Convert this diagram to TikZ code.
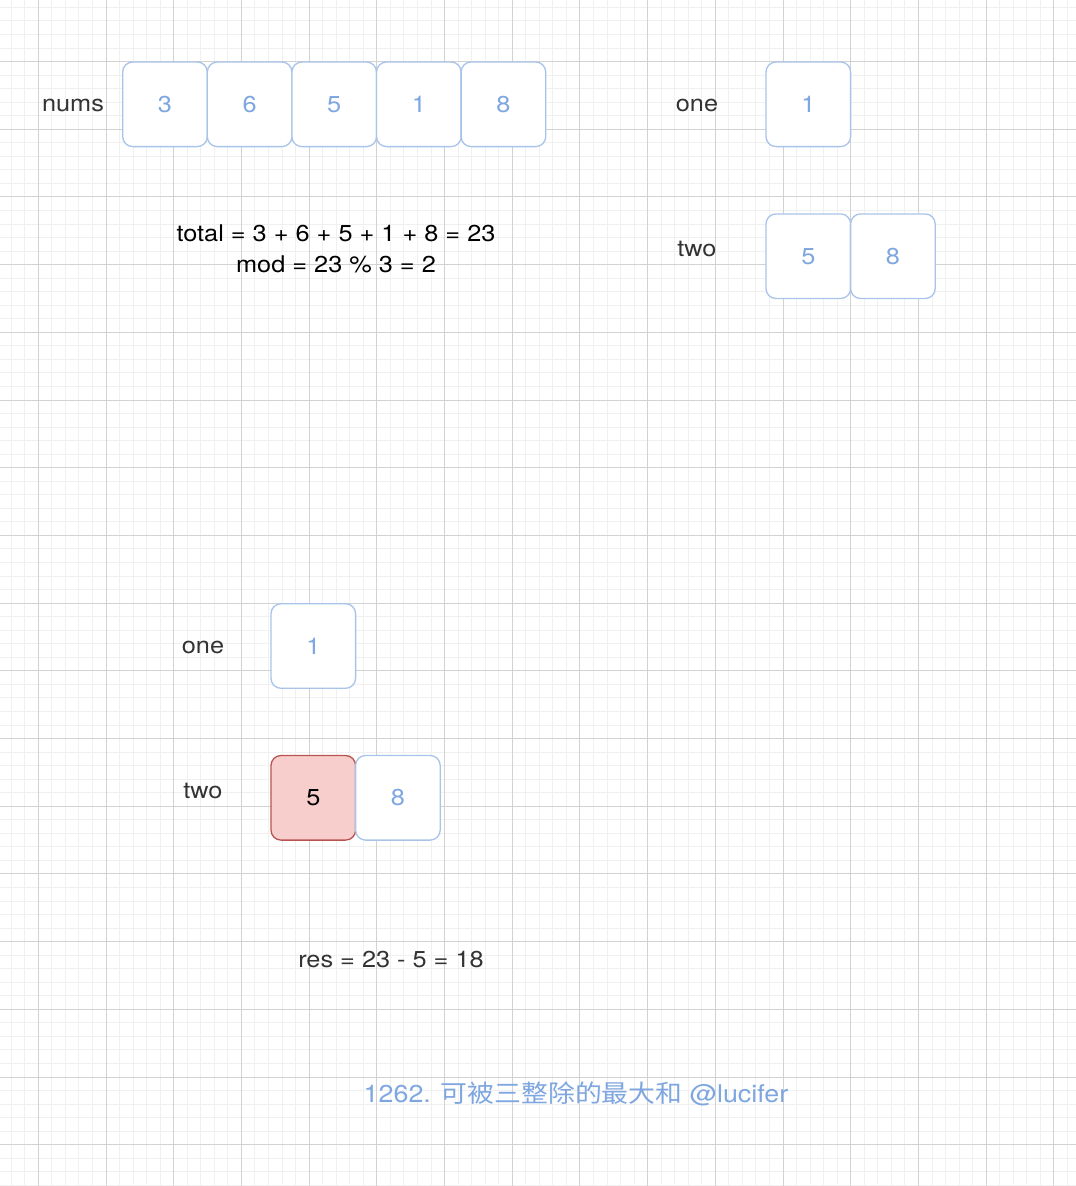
\documentclass[tikz,border=0pt]{standalone}
\usepackage{fontspec}
\setmainfont[FakeStretch=1.1]{TeX Gyre Heros}
\newfontfamily\cjk[FakeStretch=1.1]{Noto Sans CJK SC}
\definecolor{gmajor}{HTML}{D2D2D2}
\definecolor{gminor}{HTML}{F0F0F0}
\definecolor{cellstroke}{HTML}{A9C4EB}
\definecolor{celltext}{HTML}{7EA6E0}
\definecolor{redfill}{HTML}{F8CECC}
\definecolor{redstroke}{HTML}{B85450}
\definecolor{labeltext}{HTML}{333333}
\begin{document}
\begin{tikzpicture}[x=1pt,y=-1pt,
  minorline/.style={gminor, line width=0.9pt},
  majorline/.style={gmajor, line width=1pt},
  cell/.style={draw=cellstroke, fill=white, rounded corners=10pt, line width=1.3pt,
    minimum width=84.6pt, minimum height=84.6pt, inner sep=0pt, text=celltext,
    font=\fontsize{23}{27}\selectfont},
  redcell/.style={cell, draw=redstroke, fill=redfill, text=black},
  lbl/.style={text=labeltext, inner sep=0pt, font=\fontsize{23}{27}\selectfont},
  formula/.style={text=black, inner sep=0pt, align=center, font=\fontsize{23}{31}\selectfont},
  titletext/.style={text=celltext, inner sep=0pt, font=\fontsize{24.4}{28}\selectfont}]
\useasboundingbox (0,0) rectangle (1076,1186);
\fill[white] (0,0) rectangle (1076,1186);
% grid
\foreach \k in {-2,...,76} \draw[minorline] ({38.3+13.54*\k},0) -- ++(0,1186);
\foreach \k in {-4,...,83} \draw[minorline] (0,{61.5+13.54*\k}) -- ++(1076,0);
\foreach \k in {0,...,15} \draw[majorline] ({38.3+67.7*\k},0) -- ++(0,1186);
\foreach \k in {0,...,16} \draw[majorline] (0,{61.5+67.7*\k}) -- ++(1076,0);
% top-left: nums
\node[lbl] (numslbl) at (73,105) {nums};
\node[cell] (n1) at (165.0,104.3) {3};
\node[cell] (n2) at (249.6,104.3) {6};
\node[cell] (n3) at (334.2,104.3) {5};
\node[cell] (n4) at (418.8,104.3) {1};
\node[cell] (n5) at (503.4,104.3) {8};
% formulas
\node[formula] (total) at (336,249) {total = 3 + 6 + 5 + 1 + 8 = 23\\mod = 23 \% 3 = 2};
% top-right: one / two
\node[lbl] (onelblA) at (697,105) {one};
\node[cell] (oA) at (808.3,104.3) {1};
\node[lbl] (twolblA) at (697,249) {two};
\node[cell] (tA1) at (808.3,256.2) {5};
\node[cell] (tA2) at (892.9,256.2) {8};
% bottom: one / two
\node[lbl] (onelblB) at (203,647) {one};
\node[cell] (oB) at (313.3,646) {1};
\node[lbl] (twolblB) at (203,791) {two};
\node[redcell] (tB1) at (313.3,797.8) {5};
\node[cell] (tB2) at (397.9,797.8) {8};
% result
\node[lbl] (res) at (391,960) {res = 23 - 5 = 18};
% title
\node[titletext] (title) at (576,1094) {1262. {\cjk 可被三整除的最大和} @lucifer};
\end{tikzpicture}
\end{document}
